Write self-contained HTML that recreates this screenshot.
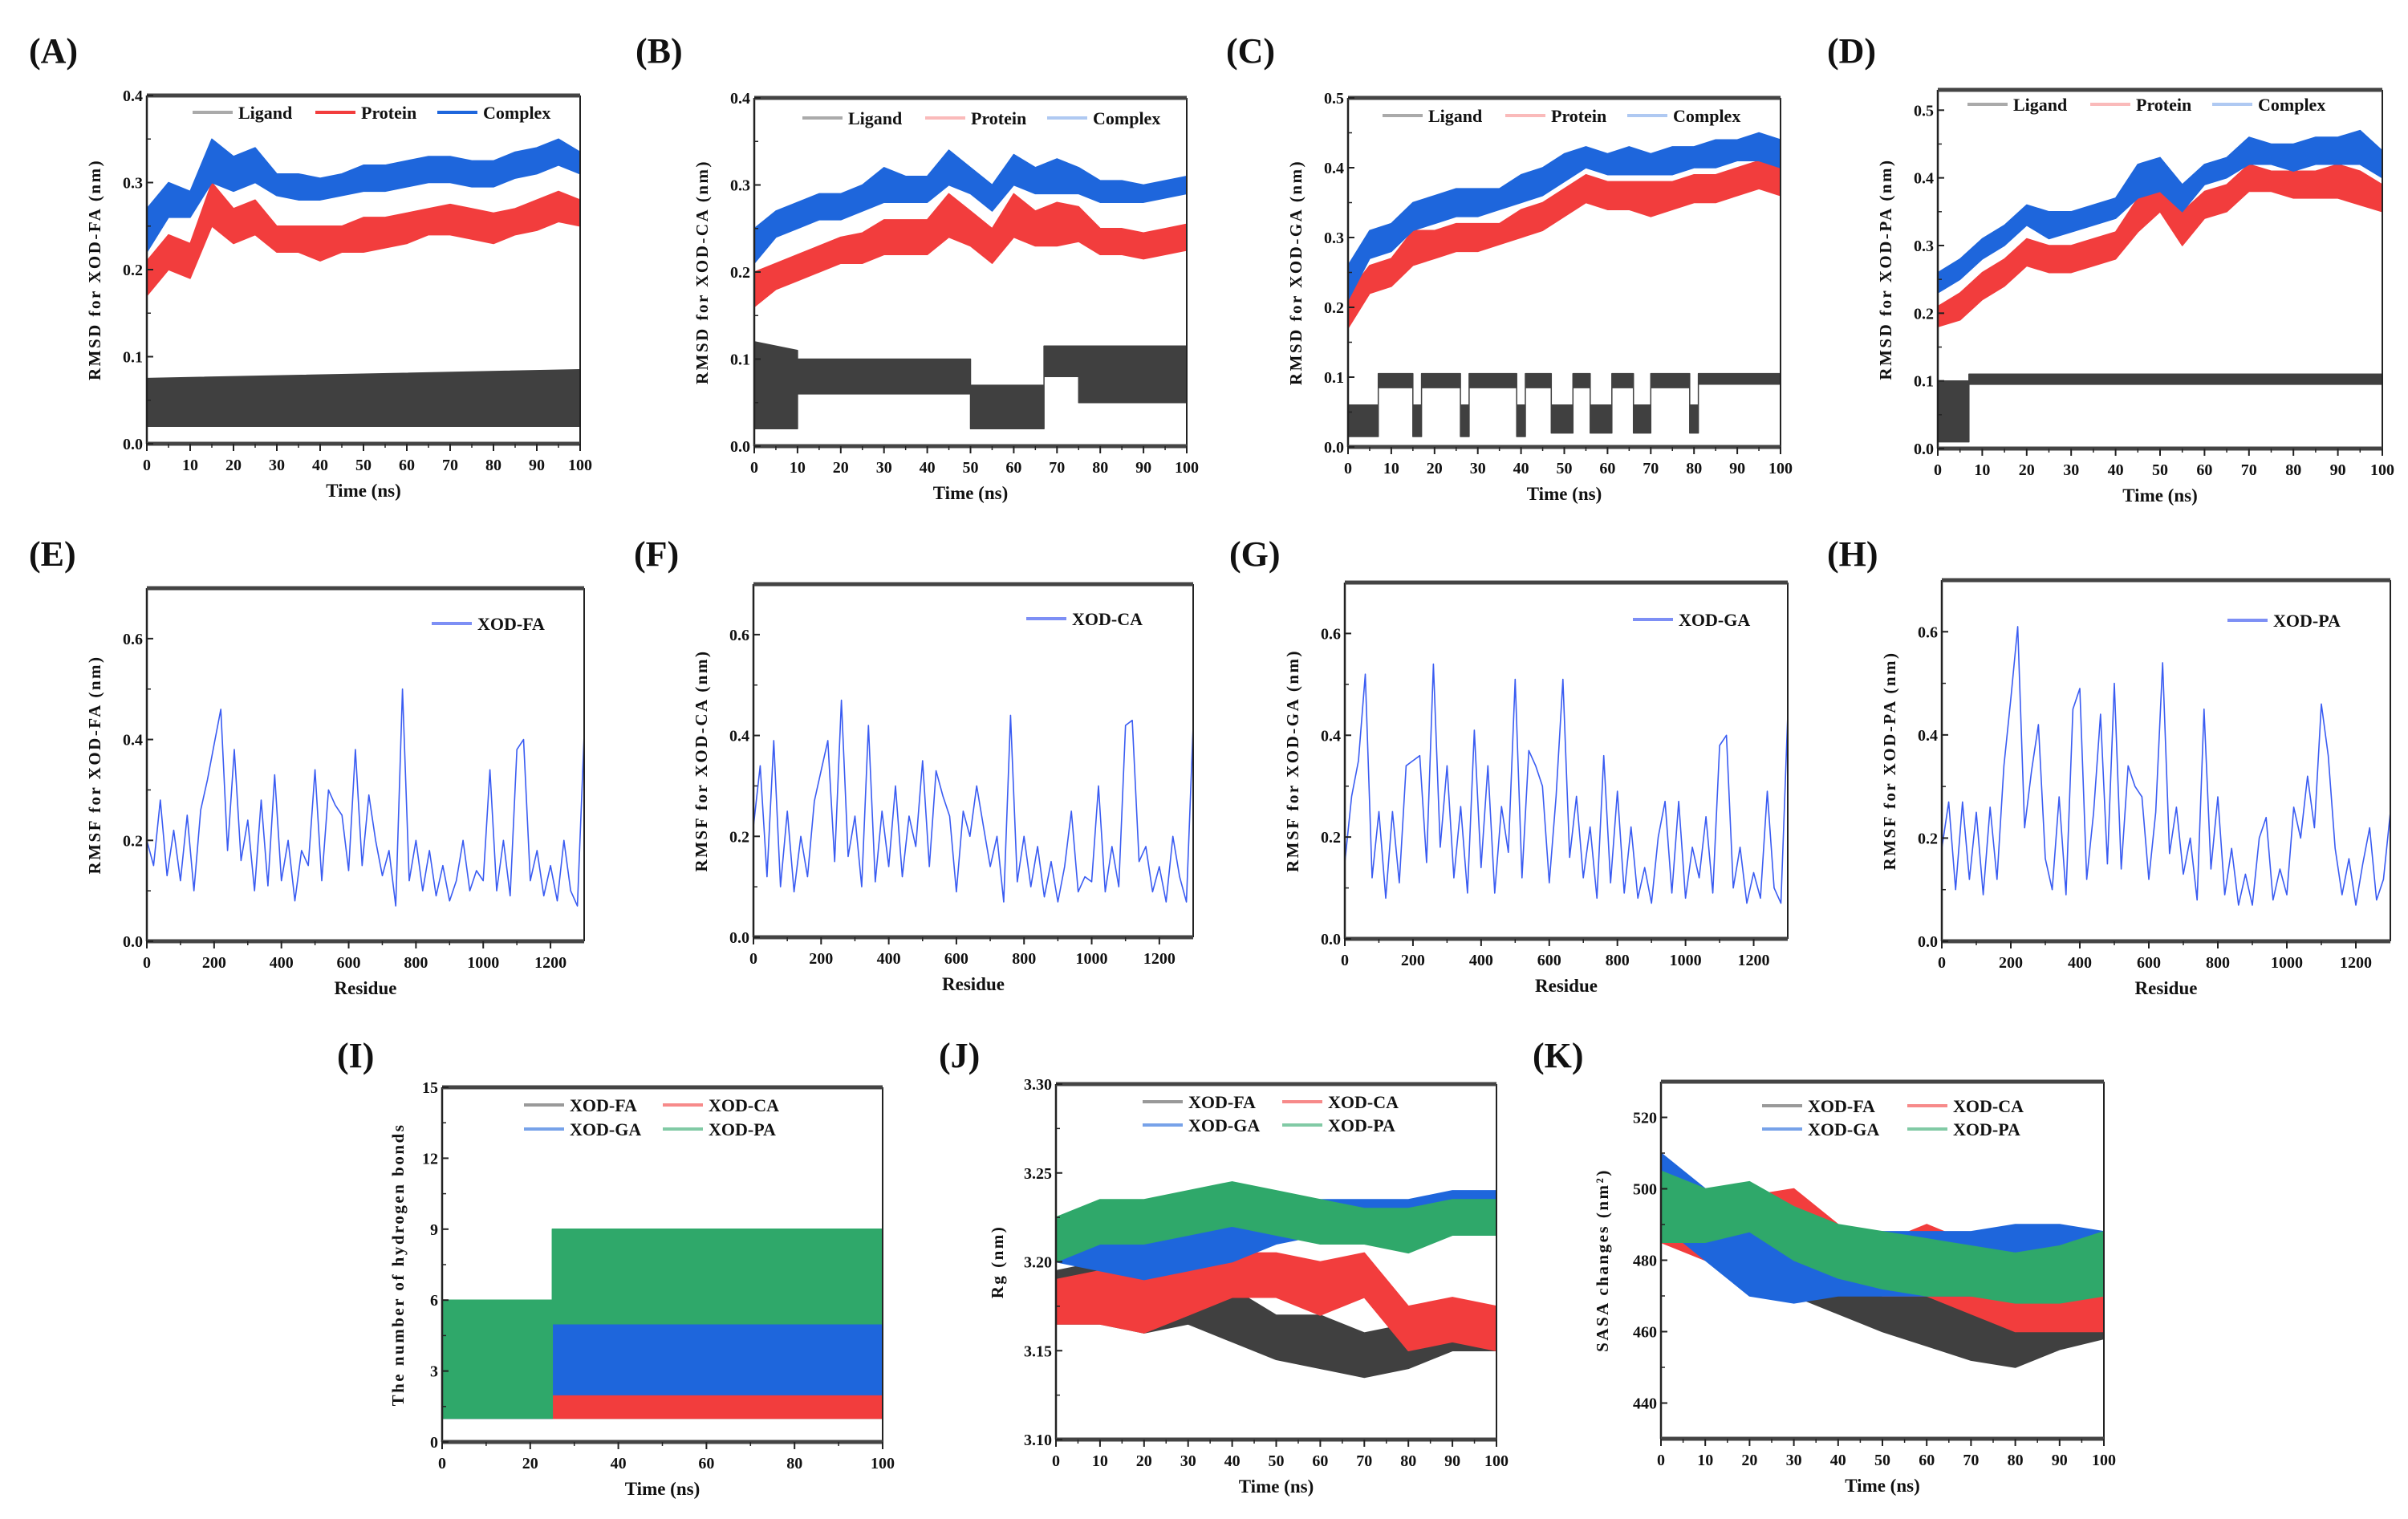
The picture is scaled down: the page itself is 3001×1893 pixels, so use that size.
<!DOCTYPE html>
<html><head><meta charset="utf-8"><title>MD analysis panels</title>
<style>
html,body{margin:0;padding:0;background:#fff;}
svg{display:block;font-family:"Liberation Serif",serif;}
</style></head>
<body>
<svg id="fig" xmlns="http://www.w3.org/2000/svg" width="3001" height="1893" viewBox="0 0 3001 1893"></svg>
<script>
// ---------- DATA ----------
const tRMSD = [0,5,10,15,20,25,30,35,40,45,50,55,60,65,70,75,80,85,90,95,100];
const aLigT = [0,100];
const aLigLo = [0.02,0.02];
const aLigHi = [0.075,0.085];
const aProLo = [0.17,0.20,0.19,0.25,0.23,0.24,0.22,0.22,0.21,0.22,0.22,0.225,0.23,0.24,0.24,0.235,0.23,0.24,0.245,0.255,0.25];
const aProHi = [0.21,0.24,0.23,0.30,0.27,0.28,0.25,0.25,0.25,0.25,0.26,0.26,0.265,0.27,0.275,0.27,0.265,0.27,0.28,0.29,0.28];
const aComLo = [0.22,0.26,0.26,0.30,0.29,0.30,0.285,0.28,0.28,0.285,0.29,0.29,0.295,0.30,0.30,0.295,0.295,0.305,0.31,0.32,0.31];
const aComHi = [0.27,0.30,0.29,0.35,0.33,0.34,0.31,0.31,0.305,0.31,0.32,0.32,0.325,0.33,0.33,0.325,0.325,0.335,0.34,0.35,0.335];

const bLigT = [0,10,10,50,50,67,67,75,75,100];
const bLigLo = [0.02,0.02,0.06,0.06,0.02,0.02,0.08,0.08,0.05,0.05];
const bLigHi = [0.12,0.11,0.10,0.10,0.07,0.07,0.115,0.115,0.115,0.115];
const bProLo = [0.16,0.18,0.19,0.20,0.21,0.21,0.22,0.22,0.22,0.24,0.23,0.21,0.24,0.23,0.23,0.235,0.22,0.22,0.215,0.22,0.225];
const bProHi = [0.20,0.21,0.22,0.23,0.24,0.245,0.26,0.26,0.26,0.29,0.27,0.25,0.29,0.27,0.28,0.275,0.25,0.25,0.245,0.25,0.255];
const bComLo = [0.21,0.24,0.25,0.26,0.26,0.27,0.28,0.28,0.28,0.30,0.29,0.27,0.30,0.29,0.29,0.29,0.28,0.28,0.28,0.285,0.29];
const bComHi = [0.25,0.27,0.28,0.29,0.29,0.30,0.32,0.31,0.31,0.34,0.32,0.30,0.335,0.32,0.33,0.32,0.305,0.305,0.30,0.305,0.31];

const cLigT = [0,7,7,15,15,17,17,26,26,28,28,39,39,41,41,47,47,52,52,56,56,61,61,66,66,70,70,79,79,81,81,100];
const cLigLo = [0.015,0.015,0.085,0.085,0.015,0.015,0.085,0.085,0.015,0.015,0.085,0.085,0.015,0.015,0.085,0.085,0.02,0.02,0.085,0.085,0.02,0.02,0.085,0.085,0.02,0.02,0.085,0.085,0.02,0.02,0.09,0.09];
const cLigHi = [0.06,0.06,0.105,0.105,0.06,0.06,0.105,0.105,0.06,0.06,0.105,0.105,0.06,0.06,0.105,0.105,0.06,0.06,0.105,0.105,0.06,0.06,0.105,0.105,0.06,0.06,0.105,0.105,0.06,0.06,0.105,0.105];
const cProLo = [0.17,0.22,0.23,0.26,0.27,0.28,0.28,0.29,0.30,0.31,0.33,0.35,0.34,0.34,0.33,0.34,0.35,0.35,0.36,0.37,0.36];
const cProHi = [0.22,0.26,0.27,0.31,0.31,0.32,0.32,0.32,0.34,0.35,0.37,0.39,0.38,0.38,0.38,0.38,0.39,0.39,0.40,0.41,0.40];
const cComLo = [0.21,0.27,0.28,0.31,0.32,0.33,0.33,0.34,0.35,0.36,0.38,0.40,0.39,0.39,0.39,0.39,0.40,0.40,0.41,0.41,0.40];
const cComHi = [0.26,0.31,0.32,0.35,0.36,0.37,0.37,0.37,0.39,0.40,0.42,0.43,0.42,0.43,0.42,0.43,0.43,0.44,0.44,0.45,0.44];

const dLigT = [0,7,7,100];
const dLigLo = [0.01,0.01,0.095,0.095];
const dLigHi = [0.10,0.10,0.11,0.11];
const dProLo = [0.18,0.19,0.22,0.24,0.27,0.26,0.26,0.27,0.28,0.32,0.35,0.30,0.34,0.35,0.38,0.38,0.37,0.37,0.37,0.36,0.35];
const dProHi = [0.21,0.23,0.26,0.28,0.31,0.30,0.30,0.31,0.32,0.37,0.39,0.35,0.38,0.39,0.42,0.41,0.41,0.41,0.42,0.41,0.39];
const dComLo = [0.23,0.25,0.28,0.30,0.33,0.31,0.32,0.33,0.34,0.37,0.38,0.35,0.39,0.40,0.42,0.42,0.41,0.42,0.42,0.42,0.40];
const dComHi = [0.26,0.28,0.31,0.33,0.36,0.35,0.35,0.36,0.37,0.42,0.43,0.39,0.42,0.43,0.46,0.45,0.45,0.46,0.46,0.47,0.44];

const residues = [0,20,40,60,80,100,120,140,160,180,200,220,240,260,280,300,320,340,360,380,400,420,440,460,480,500,520,540,560,580,600,620,640,660,680,700,720,740,760,780,800,820,840,860,880,900,920,940,960,980,1000,1020,1040,1060,1080,1100,1120,1140,1160,1180,1200,1220,1240,1260,1280,1300];
const rmsfFA = [0.20,0.15,0.28,0.13,0.22,0.12,0.25,0.10,0.26,0.32,0.39,0.46,0.18,0.38,0.16,0.24,0.10,0.28,0.11,0.33,0.12,0.20,0.08,0.18,0.15,0.34,0.12,0.30,0.27,0.25,0.14,0.38,0.15,0.29,0.20,0.13,0.18,0.07,0.50,0.12,0.20,0.10,0.18,0.09,0.15,0.08,0.12,0.20,0.10,0.14,0.12,0.34,0.10,0.20,0.09,0.38,0.40,0.12,0.18,0.09,0.15,0.08,0.20,0.10,0.07,0.41];
const rmsfCA = [0.22,0.34,0.12,0.39,0.10,0.25,0.09,0.20,0.12,0.27,0.33,0.39,0.15,0.47,0.16,0.24,0.10,0.42,0.11,0.25,0.14,0.30,0.12,0.24,0.18,0.35,0.14,0.33,0.28,0.24,0.09,0.25,0.20,0.30,0.22,0.14,0.20,0.07,0.44,0.11,0.20,0.10,0.18,0.08,0.15,0.07,0.14,0.25,0.09,0.12,0.11,0.30,0.09,0.18,0.10,0.42,0.43,0.15,0.18,0.09,0.14,0.07,0.20,0.12,0.07,0.42];
const rmsfGA = [0.15,0.28,0.35,0.52,0.12,0.25,0.08,0.25,0.11,0.34,0.35,0.36,0.15,0.54,0.18,0.34,0.12,0.26,0.09,0.41,0.14,0.34,0.09,0.26,0.17,0.51,0.12,0.37,0.34,0.30,0.11,0.28,0.51,0.16,0.28,0.12,0.22,0.08,0.36,0.11,0.29,0.09,0.22,0.08,0.14,0.07,0.20,0.27,0.09,0.27,0.08,0.18,0.12,0.24,0.09,0.38,0.40,0.10,0.18,0.07,0.13,0.08,0.29,0.10,0.07,0.44];
const rmsfPA = [0.18,0.27,0.10,0.27,0.12,0.25,0.09,0.26,0.12,0.34,0.47,0.61,0.22,0.33,0.42,0.16,0.10,0.28,0.09,0.45,0.49,0.12,0.25,0.44,0.15,0.50,0.14,0.34,0.30,0.28,0.12,0.25,0.54,0.17,0.26,0.13,0.20,0.08,0.45,0.14,0.28,0.09,0.18,0.07,0.13,0.07,0.20,0.24,0.08,0.14,0.09,0.26,0.20,0.32,0.22,0.46,0.36,0.18,0.09,0.16,0.07,0.15,0.22,0.08,0.12,0.25];

const iFAT = [0,25,25,100];
const iFALo = [1,1,1,1];
const iFAHi = [6,6,3,3];
const iCAT = [0,100];
const iCALo = [1,1];
const iCAHi = [2,2];
const iGAT = [0,25,25,100];
const iGALo = [1,1,2,2];
const iGAHi = [5,5,5,5];
const iPAT = [0,25,25,100];
const iPALo = [1,1,5,5];
const iPAHi = [6,6,9,9];

const t10 = [0,10,20,30,40,50,60,70,80,90,100];
const jFALo = [3.165,3.165,3.16,3.165,3.155,3.145,3.14,3.135,3.14,3.15,3.15];
const jFAHi = [3.195,3.20,3.19,3.195,3.185,3.17,3.17,3.16,3.165,3.17,3.175];
const jCALo = [3.165,3.165,3.16,3.17,3.18,3.18,3.17,3.18,3.15,3.155,3.15];
const jCAHi = [3.19,3.195,3.19,3.195,3.205,3.205,3.20,3.205,3.175,3.18,3.175];
const jGALo = [3.20,3.195,3.19,3.195,3.20,3.21,3.215,3.215,3.215,3.22,3.215];
const jGAHi = [3.225,3.22,3.215,3.22,3.225,3.235,3.235,3.235,3.235,3.24,3.24];
const jPALo = [3.20,3.21,3.21,3.215,3.22,3.215,3.21,3.21,3.205,3.215,3.215];
const jPAHi = [3.225,3.235,3.235,3.24,3.245,3.24,3.235,3.23,3.23,3.235,3.235];

const kFALo = [488,482,478,470,465,460,456,452,450,455,458];
const kFAHi = [500,496,496,488,482,478,474,470,468,470,472];
const kCALo = [485,480,480,480,475,470,470,465,460,460,460];
const kCAHi = [500,495,498,500,490,485,490,485,475,475,478];
const kGALo = [490,480,470,468,470,470,470,470,470,472,470];
const kGAHi = [510,500,488,485,488,488,488,488,490,490,488];
const kPALo = [485,485,488,480,475,472,470,470,468,468,470];
const kPAHi = [505,500,502,495,490,488,486,484,482,484,488];

const ticksTime10 = [0,10,20,30,40,50,60,70,80,90,100];
const ticksTime20 = [0,20,40,60,80,100];
const ticksRes = [0,200,400,600,800,1000,1200];
const ticksRMSD4 = [0.0,0.1,0.2,0.3,0.4];
const ticksRMSD5 = [0.0,0.1,0.2,0.3,0.4,0.5];
const ticksRMSF = [0.0,0.2,0.4,0.6];
const ticksHB = [0,3,6,9,12,15];
const ticksRg = [3.10,3.15,3.20,3.25,3.30];
const ticksSASA = [440,460,480,500,520];

// ---------- DRAWING ----------
const NS = "http://www.w3.org/2000/svg";
const svg = document.getElementById('fig');
const C = {lig:'#404040', pro:'#f23d3d', com:'#1e66dc', gre:'#2fa86a', rmsf:'#3a5cf2'};

function mk(tag, attrs, parent){
  const e = document.createElementNS(NS, tag);
  for (const k in attrs) e.setAttribute(k, attrs[k]);
  (parent||svg).appendChild(e);
  return e;
}

function panel(cfg){
  const g = mk('g', {});
  
  
  const sx = v => cfg.x0 + (v - cfg.xmin) / (cfg.xmax - cfg.xmin) * (cfg.x1 - cfg.x0);
  const sy = v => cfg.y1 - (v - cfg.ymin) / (cfg.ymax - cfg.ymin) * (cfg.y1 - cfg.y0);
  cfg.sx = sx; cfg.sy = sy; cfg.g = g;
  const cp = mk('clipPath', {id: 'clip-' + cfg.id}, g);
  mk('rect', {x: cfg.x0, y: cfg.y0, width: cfg.x1 - cfg.x0, height: cfg.y1 - cfg.y0}, cp);
  cfg.plot = mk('g', {'clip-path': 'url(#clip-' + cfg.id + ')'}, g);
  
  
  const lab = mk('text', {x: cfg.labelX, y: cfg.labelY, 'font-size': 44, 'font-weight': 'bold', fill: '#111'}, g);
  lab.textContent = '(' + cfg.id.toUpperCase() + ')';
  
  
  return cfg;
}

function frame(cfg){
  const g = cfg.g;
  const fr = mk('g', {}, g);
  
  
  mk('line', {x1: cfg.x0, y1: cfg.y0, x2: cfg.x0, y2: cfg.y1, stroke: '#222', 'stroke-width': 2.5}, fr);
  mk('line', {x1: cfg.x1, y1: cfg.y0, x2: cfg.x1, y2: cfg.y1, stroke: '#222', 'stroke-width': 2}, fr);
  mk('line', {x1: cfg.x0, y1: cfg.y0, x2: cfg.x1, y2: cfg.y0, stroke: '#444', 'stroke-width': 5}, fr);
  mk('line', {x1: cfg.x0, y1: cfg.y1, x2: cfg.x1, y2: cfg.y1, stroke: '#444', 'stroke-width': 5}, fr);
  const xa = mk('g', {}, g);
  
  
  cfg.xticks.forEach((v, i) => {
    const x = cfg.sx(v);
    mk('line', {x1: x, y1: cfg.y1, x2: x, y2: cfg.y1 + 9, stroke: '#222', 'stroke-width': 2}, xa);
    if (i < cfg.xticks.length - 1) {
      const xm = cfg.sx((v + cfg.xticks[i + 1]) / 2);
      mk('line', {x1: xm, y1: cfg.y1, x2: xm, y2: cfg.y1 + 5, stroke: '#222', 'stroke-width': 1.5}, xa);
    }
    const t = mk('text', {x: x, y: cfg.y1 + 33, 'font-size': 20, 'font-weight': 'bold', 'text-anchor': 'middle', fill: '#111'}, xa);
    t.textContent = v;
    
    
  });
  const xt = mk('text', {x: (cfg.x0 + cfg.x1) / 2, y: cfg.y1 + 66, 'font-size': 23, 'font-weight': 'bold', 'text-anchor': 'middle', fill: '#111'}, g);
  xt.textContent = cfg.xtitle;
  
  
  const ya = mk('g', {}, g);
  
  
  cfg.yticks.forEach((v, i) => {
    const y = cfg.sy(v);
    mk('line', {x1: cfg.x0, y1: y, x2: cfg.x0 + 8, y2: y, stroke: '#222', 'stroke-width': 2}, ya);
    if (i < cfg.yticks.length - 1) {
      const ym = cfg.sy((v + cfg.yticks[i + 1]) / 2);
      mk('line', {x1: cfg.x0, y1: ym, x2: cfg.x0 + 5, y2: ym, stroke: '#222', 'stroke-width': 1.5}, ya);
    }
    const t = mk('text', {x: cfg.x0 - 5, y: y + 7, 'font-size': 20, 'font-weight': 'bold', 'text-anchor': 'end', fill: '#111'}, ya);
    t.textContent = v.toFixed(cfg.ydec);
    
    
  });
  const cy = (cfg.y0 + cfg.y1) / 2;
  const yt = mk('text', {x: cfg.ytX, y: cy, 'font-size': 21, 'font-weight': 'bold', 'text-anchor': 'middle', 'letter-spacing': 2.5, fill: '#111', transform: 'rotate(-90 ' + cfg.ytX + ' ' + cy + ')'}, g);
  yt.textContent = cfg.ytitle;
  
  
}

function band(cfg, t, lo, hi, color, name){
  let d = '';
  for (let i = 0; i < t.length; i++) d += (i ? 'L' : 'M') + cfg.sx(t[i]).toFixed(1) + ' ' + cfg.sy(hi[i]).toFixed(1);
  for (let i = t.length - 1; i >= 0; i--) d += 'L' + cfg.sx(t[i]).toFixed(1) + ' ' + cfg.sy(lo[i]).toFixed(1);
  const p = mk('path', {d: d + 'Z', fill: color, stroke: color, 'stroke-width': 1.5, 'stroke-linejoin': 'round'}, cfg.plot);
  
  
}

function line(cfg, x, y, color, name){
  let d = '';
  for (let i = 0; i < x.length; i++) d += (i ? 'L' : 'M') + cfg.sx(x[i]).toFixed(1) + ' ' + cfg.sy(y[i]).toFixed(1);
  const p = mk('path', {d: d, fill: 'none', stroke: color, 'stroke-width': 1.6, 'stroke-linejoin': 'round'}, cfg.plot);
  
  
}

function legendEntry(cfg, x, y, color, label, opacity){
  const g = mk('g', {}, cfg.g);
  
  
  mk('line', {x1: x, y1: y, x2: x + 50, y2: y, stroke: color, 'stroke-width': 4, opacity: opacity}, g);
  const t = mk('text', {x: x + 57, y: y + 8, 'font-size': 22, 'font-weight': 'bold', fill: '#111'}, g);
  t.textContent = label;
}

function rmsdPanel(id, box, ymax, yt, ticks, lig, pro, com, legX, legY, legOp, labelX){
  const p = panel({id: id, x0: box[0], x1: box[1], y0: box[2], y1: box[3], xmin: 0, xmax: 100, ymin: 0, ymax: ymax,
    labelX: labelX, labelY: 78});
  band(p, lig[0], lig[1], lig[2], C.lig, 'ligand-series-' + id);
  band(p, tRMSD, pro[0], pro[1], C.pro, 'protein-series-' + id);
  band(p, tRMSD, com[0], com[1], C.com, 'complex-series-' + id);
  Object.assign(p, {xticks: ticksTime10, yticks: ticks, ydec: 1, xtitle: 'Time (ns)', ytitle: yt, ytX: box[0] - 58});
  frame(p);
  legendEntry(p, legX, legY, '#aaa', 'Ligand', 1);
  legendEntry(p, legX + 153, legY, C.pro, 'Protein', legOp);
  legendEntry(p, legX + 305, legY, C.com, 'Complex', legOp);
}
rmsdPanel('a', [183,723,119,553], 0.4, 'RMSD for XOD-FA (nm)', ticksRMSD4, [aLigT,aLigLo,aLigHi], [aProLo,aProHi], [aComLo,aComHi], 240, 140, 1, 36);
rmsdPanel('b', [940,1479,122,556], 0.4, 'RMSD for XOD-CA (nm)', ticksRMSD4, [bLigT,bLigLo,bLigHi], [bProLo,bProHi], [bComLo,bComHi], 1000, 147, 0.35, 792);
rmsdPanel('c', [1680,2219,122,557], 0.5, 'RMSD for XOD-GA (nm)', ticksRMSD5, [cLigT,cLigLo,cLigHi], [cProLo,cProHi], [cComLo,cComHi], 1723, 144, 0.35, 1528);
rmsdPanel('d', [2415,2969,112,559], 0.53, 'RMSD for XOD-PA (nm)', ticksRMSD5, [dLigT,dLigLo,dLigHi], [dProLo,dProHi], [dComLo,dComHi], 2452, 130, 0.35, 2277);

function rmsfPanel(id, box, vals, name, legX, legY, labelX){
  const p = panel({id: id, x0: box[0], x1: box[1], y0: box[2], y1: box[3], xmin: 0, xmax: 1300, ymin: 0, ymax: 0.7,
    labelX: labelX, labelY: 705});
  line(p, residues, vals, C.rmsf, 'rmsf-series-' + id);
  Object.assign(p, {xticks: ticksRes, yticks: ticksRMSF, ydec: 1, xtitle: 'Residue', ytitle: 'RMSF for ' + name + ' (nm)', ytX: box[0] - 58});
  frame(p);
  legendEntry(p, legX, legY, '#7d8ff5', name, 1);
}
rmsfPanel('e', [183,728,733,1173], rmsfFA, 'XOD-FA', 538, 777, 36);
rmsfPanel('f', [939,1487,728,1168], rmsfCA, 'XOD-CA', 1279, 771, 790);
rmsfPanel('g', [1676,2228,726,1170], rmsfGA, 'XOD-GA', 2035, 772, 1532);
rmsfPanel('h', [2420,2979,723,1173], rmsfPA, 'XOD-PA', 2776, 773, 2277);

function fourLegend(p, x1, x2, y1, y2){
  legendEntry(p, x1, y1, '#999', 'XOD-FA', 1);
  legendEntry(p, x2, y1, C.pro, 'XOD-CA', 0.6);
  legendEntry(p, x1, y2, C.com, 'XOD-GA', 0.6);
  legendEntry(p, x2, y2, C.gre, 'XOD-PA', 0.6);
}
const pI = panel({id: 'i', x0: 551, x1: 1100, y0: 1355, y1: 1797, xmin: 0, xmax: 100, ymin: 0, ymax: 15, labelX: 420, labelY: 1330});
band(pI, iFAT, iFALo, iFAHi, C.lig, 'hbond-series-fa');
band(pI, iCAT, iCALo, iCAHi, C.pro, 'hbond-series-ca');
band(pI, iGAT, iGALo, iGAHi, C.com, 'hbond-series-ga');
band(pI, iPAT, iPALo, iPAHi, C.gre, 'hbond-series-pa');
Object.assign(pI, {xticks: ticksTime20, yticks: ticksHB, ydec: 0, xtitle: 'Time (ns)', ytitle: 'The number of hydrogen bonds', ytX: 503});
frame(pI);
fourLegend(pI, 653, 826, 1377, 1407);

const pJ = panel({id: 'j', x0: 1316, x1: 1865, y0: 1351, y1: 1794, xmin: 0, xmax: 100, ymin: 3.10, ymax: 3.30, labelX: 1170, labelY: 1330});
band(pJ, t10, jFALo, jFAHi, C.lig, 'rg-series-fa');
band(pJ, t10, jCALo, jCAHi, C.pro, 'rg-series-ca');
band(pJ, t10, jGALo, jGAHi, C.com, 'rg-series-ga');
band(pJ, t10, jPALo, jPAHi, C.gre, 'rg-series-pa');
Object.assign(pJ, {xticks: ticksTime10, yticks: ticksRg, ydec: 2, xtitle: 'Time (ns)', ytitle: 'Rg (nm)', ytX: 1250});
frame(pJ);
fourLegend(pJ, 1424, 1598, 1373, 1402);

const pK = panel({id: 'k', x0: 2070, x1: 2622, y0: 1348, y1: 1793, xmin: 0, xmax: 100, ymin: 430, ymax: 530, labelX: 1910, labelY: 1330});
band(pK, t10, kFALo, kFAHi, C.lig, 'sasa-series-fa');
band(pK, t10, kCALo, kCAHi, C.pro, 'sasa-series-ca');
band(pK, t10, kGALo, kGAHi, C.com, 'sasa-series-ga');
band(pK, t10, kPALo, kPAHi, C.gre, 'sasa-series-pa');
Object.assign(pK, {xticks: ticksTime10, yticks: ticksSASA, ydec: 0, xtitle: 'Time (ns)', ytitle: 'SASA changes (nm²)', ytX: 2004});
frame(pK);
fourLegend(pK, 2196, 2377, 1378, 1407);
</script>
</body></html>
